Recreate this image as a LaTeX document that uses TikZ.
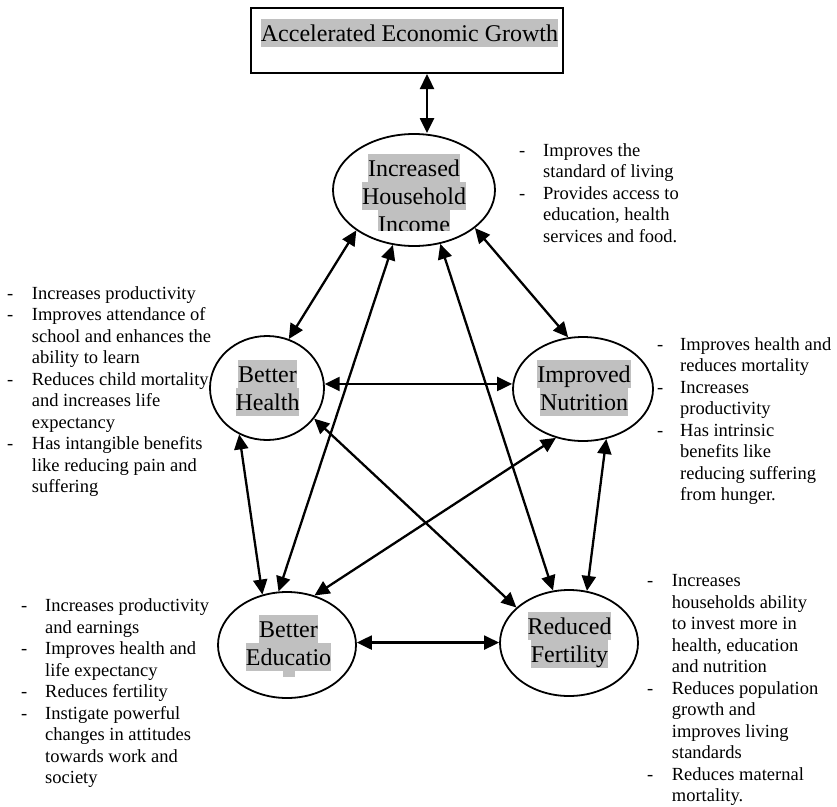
\documentclass[tikz,border=0pt]{standalone}
\usepackage{fontspec}
\setmainfont{Liberation Serif}
\usetikzlibrary{shapes.geometric,arrows.meta}
\definecolor{hlgray}{RGB}{192,192,192}
\newcommand{\hlline}[1]{{\setlength{\fboxsep}{0pt}\colorbox{hlgray}{\rule[-6pt]{0pt}{28pt}#1}}}
\tikzset{
  ell/.style={draw, ellipse, line width=1.8pt, inner sep=0pt},
  lbl/.style={font=\fontsize{24}{28}\selectfont, align=center, inner sep=0pt, outer sep=0pt},
  side/.style={font=\fontsize{18.5}{21.5}\selectfont, inner sep=0pt, anchor=north west, align=left},
  conn/.style={line width=2.3pt, {Triangle[length=15pt,width=14pt]}-{Triangle[length=15pt,width=14pt]}}
}
\begin{document}
\begin{tikzpicture}[x=1pt,y=-1pt]
\useasboundingbox[fill=white] (0,0) rectangle (837,806);

% top box
\node[draw, line width=2pt, minimum width=312pt, minimum height=65pt, inner sep=0pt] (box) at (407,40.5) {};
\node[lbl] (boxtxt) at (409.5,33) {\hlline{Accelerated Economic Growth}};

% ellipses
\node[ell, minimum width=162pt, minimum height=112pt] (inc) at (414,190) {};
\node[ell, minimum width=114pt, minimum height=104pt] (hea) at (267,388) {};
\node[ell, minimum width=140pt, minimum height=104pt] (nut) at (583,389) {};
\node[ell, minimum width=138pt, minimum height=106pt] (edu) at (287,645) {};
\node[ell, minimum width=138pt, minimum height=106pt] (fer) at (569,643) {};

% labels
\begin{scope}
\clip (300,100) rectangle (530,230);
\node[lbl] (tinc) at (414,196) {\hlline{Increased}\\\hlline{Household}\\\hlline{Income}};
\end{scope}
\node[lbl] (thea) at (267.5,388) {\hlline{Better}\\\hlline{Health}};
\node[lbl] (tnut) at (584,388) {\hlline{Improved}\\\hlline{Nutrition}};
\begin{scope}
\clip (200,590) rectangle (380,676);
\node[lbl] (tedu) at (288.5,657) {\hlline{Better}\\\hlline{Educatio}\\\hlline{n}};
\end{scope}
\node[lbl] (tfer) at (569.5,640) {\hlline{Reduced}\\\hlline{Fertility}};

% connectors
\draw[conn] ([xshift=20pt]box.south) -- ([xshift=20pt]box.south |- inc.north);
\draw[conn] (inc.215) -- (hea.66);
\draw[conn] (inc.249) -- (edu.99);
\draw[conn] (inc.296) -- (fer.107);
\draw[conn] (inc.328) -- (nut.106);
\draw[conn] (hea.4) -- (hea.4 -| nut.west);
\draw[conn] (hea.239) -- (edu.116);
\draw[conn] (hea.327) -- (fer.146);
\draw[conn] (nut.241) -- (edu.61);
\draw[conn] (nut.295) -- (fer.71);
\draw[conn] (edu.2) -- (edu.2 -| fer.west);

% side texts
\node[side] (sinc) at (519,141) {\begin{tabular}{@{}p{24pt}@{}l@{}}
-&Improves the\\ &standard of living\\ -&Provides access to\\ &education, health\\ &services and food.\end{tabular}};
\node[side] (shea) at (7,284) {\begin{tabular}{@{}p{24.7pt}@{}l@{}}
-&Increases productivity\\ -&Improves attendance of\\ &school and enhances the\\ &ability to learn\\ -&Reduces child mortality\\ &and increases life\\ &expectancy\\ -&Has intangible benefits\\ &like reducing pain and\\ &suffering\end{tabular}};
\node[side] (snut) at (657,335) {\begin{tabular}{@{}p{23pt}@{}l@{}}
-&Improves health and\\ &reduces mortality\\ -&Increases\\ &productivity\\ -&Has intrinsic\\ &benefits like\\ &reducing suffering\\ &from hunger.\end{tabular}};
\node[side] (sedu) at (21,596.7) {\begin{tabular}{@{}p{24pt}@{}l@{}}
-&Increases productivity\\ &and earnings\\ -&Improves health and\\ &life expectancy\\ -&Reduces fertility\\ -&Instigate powerful\\ &changes in attitudes\\ &towards work and\\ &society\end{tabular}};
\node[side] (sfer) at (647,571.7) {\begin{tabular}{@{}p{24.7pt}@{}l@{}}
-&Increases\\ &households ability\\ &to invest more in\\ &health, education\\ &and nutrition\\ -&Reduces population\\ &growth and\\ &improves living\\ &standards\\ -&Reduces maternal\\ &mortality.\end{tabular}};
\end{tikzpicture}
\end{document}
